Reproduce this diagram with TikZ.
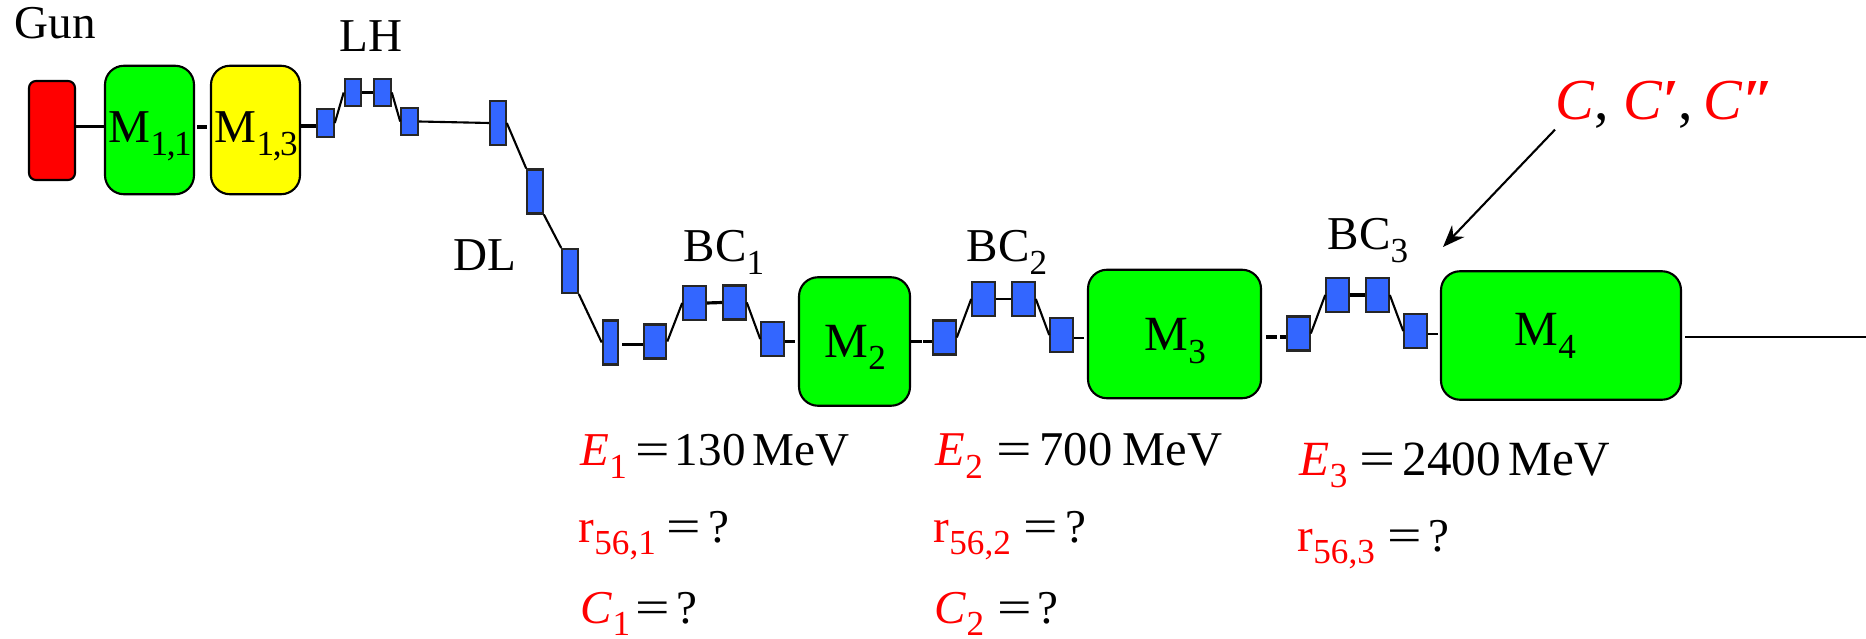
\documentclass[tikz,border=0pt]{standalone}
\usepackage{fontspec}
\usepackage{tikz}
\usepackage{xcolor}
\usetikzlibrary{arrows.meta}
\setmainfont{Liberation Serif}
\definecolor{magnetc}{HTML}{00FF00}
\definecolor{harmc}{HTML}{FFFF00}
\definecolor{gunc}{HTML}{FF0000}
\definecolor{dipolec}{HTML}{3366FF}
\newcommand{\lowsub}[1]{\raisebox{-3.6pt}{\fontsize{10}{10}\selectfont #1}}
\newcommand{\redit}[1]{\textcolor{gunc}{\textit{#1}}}
\newcommand{\eqs}{\scalebox{1.3}[1]{=}}
\tikzset{
  block/.style={draw=black, line width=0.6pt, inner sep=0pt},
  cavity/.style={block, fill=magnetc, rounded corners=0.19cm, minimum height=1.285cm},
  dipole/.style={draw=black!85, line width=0.6pt, inner sep=0pt, fill=dipolec, minimum width=0.225cm, minimum height=0.34cm},
  lhdipole/.style={dipole, minimum width=0.165cm, minimum height=0.275cm},
  dldipole/.style={dipole, minimum width=0.155cm, minimum height=0.44cm},
  beam/.style={draw=black, line width=0.6pt},
  heavybeam/.style={draw=black, line width=0.9pt},
  lbl/.style={inner sep=0pt, anchor=base west, font=\fontsize{13.4}{15}\selectfont},
  biglbl/.style={lbl, font=\fontsize{14}{15}\selectfont},
}
\begin{document}
\begin{tikzpicture}
\useasboundingbox (0,0) rectangle (18.66,6.38);
% injector
\node[block, fill=gunc, rounded corners=0.07cm, minimum width=0.46cm, minimum height=0.99cm] (gun) at (0.520,5.075) {};
\node[cavity, minimum width=0.89cm] (mA) at (1.495,5.080) {};
\node[cavity, fill=harmc, minimum width=0.89cm] (mB) at (2.555,5.080) {};
\node[lhdipole] (lha) at (3.255,5.150) {};
\node[lhdipole] (lhb) at (3.530,5.455) {};
\node[lhdipole] (lhc) at (3.825,5.455) {};
\node[lhdipole] (lhd) at (4.095,5.165) {};
\node[dldipole] (dla) at (4.980,5.150) {};
\node[dldipole] (dlb) at (5.350,4.465) {};
\node[dldipole] (dlc) at (5.700,3.670) {};
\node[dldipole] (dld) at (6.105,2.955) {};
% first compressor
\node[dipole] (bcAa) at (6.550,2.965) {};
\node[dipole] (bcAb) at (6.945,3.350) {};
\node[dipole] (bcAc) at (7.345,3.355) {};
\node[dipole] (bcAd) at (7.725,2.990) {};
\node[cavity, minimum width=1.11cm] (mC) at (8.545,2.965) {};
% second compressor
\node[dipole] (bcBa) at (9.445,3.005) {};
\node[dipole] (bcBb) at (9.835,3.390) {};
\node[dipole] (bcBc) at (10.235,3.390) {};
\node[dipole] (bcBd) at (10.615,3.030) {};
\node[cavity, minimum width=1.73cm] (mD) at (11.745,3.040) {};
% third compressor
\node[dipole] (bcCa) at (12.985,3.045) {};
\node[dipole] (bcCb) at (13.375,3.430) {};
\node[dipole] (bcCc) at (13.775,3.430) {};
\node[dipole] (bcCd) at (14.155,3.070) {};
\node[cavity, minimum width=2.40cm] (mE) at (15.610,3.025) {};
% beam line
\draw[beam] ([yshift=0.04cm]gun.east) -- ([yshift=0.04cm]gun.east -| mA.west);
\draw[heavybeam, shorten <=0.02cm, shorten >=0.03cm] ([yshift=0.03cm]mA.east) -- ([yshift=0.03cm]mB.west);
\draw[heavybeam] ([yshift=-0.03cm]lha.west -| mB.east) -- ([yshift=-0.03cm]lha.west);
\draw[beam] (lha.east) -- (lhb.west);
\draw[heavybeam] (lhb.east) -- (lhc.west);
\draw[beam] (lhc.east) -- (lhd.west);
\draw[beam] (lhd.east) -- (dla.west);
\draw[beam] (dla.east) -- (dlb.north west);
\draw[beam] (dlb.south east) -- (dlc.north west);
\draw[beam] (dlc.south east) -- (dld.west);
\draw[heavybeam, shorten <=0.03cm] ([yshift=-0.03cm]bcAa.west -| dld.east) -- ([yshift=-0.03cm]bcAa.west);
\draw[beam] (bcAa.east) -- (bcAb.west);
\draw[heavybeam] (bcAb.east) -- (bcAc.west);
\draw[beam] (bcAc.east) -- (bcAd.west);
\draw[beam, shorten >=0.03cm] (bcAd.east |- mC.west) -- (mC.west);
\draw[heavybeam, dash pattern=on 3.1pt off 0.4pt] (mC.east) -- (bcBa.west |- mC.east);
\draw[beam] (bcBa.east) -- (bcBb.west);
\draw[beam] (bcBb.east) -- (bcBc.west);
\draw[beam] (bcBc.east) -- (bcBd.west);
\draw[beam, shorten >=0.03cm] ([yshift=-0.03cm]bcBd.east) -- ([yshift=-0.03cm]bcBd.east -| mD.west);
\draw[heavybeam, shorten <=0.04cm, dash pattern=on 3.1pt off 0.9pt] ([yshift=-0.035cm]mD.east |- bcCa.west) -- ([yshift=-0.035cm]bcCa.west);
\draw[beam] (bcCa.east) -- (bcCb.west);
\draw[heavybeam] (bcCb.east) -- (bcCc.west);
\draw[beam] (bcCc.east) -- (bcCd.west);
\draw[beam, shorten >=0.02cm] ([yshift=-0.03cm]bcCd.east) -- ([yshift=-0.03cm]bcCd.east -| mE.west);
\coordinate (beamend) at (18.66,3.010);
\draw[beam, shorten <=0.03cm] (mE.east |- beamend) -- (beamend);
% labels
\node[lbl] (gunlab) at (0.140,5.990) {Gun};
\node[lbl] (lhlab) at (3.390,5.860) {LH};
\node[lbl] (dllab) at (4.530,3.670) {DL};
\node[lbl] (mAlab) at (1.080,4.950) {M\lowsub{1\kern-0.4pt,\kern-0.4pt1}};
\node[lbl] (mBlab) at (2.140,4.950) {M\lowsub{1\kern-0.4pt,\kern-0.4pt3}};
\node[biglbl] (mClab) at (8.240,2.810) {M\lowsub{2}};
\node[biglbl] (mDlab) at (11.440,2.870) {M\lowsub{3}};
\node[biglbl] (mElab) at (15.140,2.920) {M\lowsub{4}};
\node[lbl] (bcAlab) at (6.830,3.760) {BC\lowsub{1}};
\node[lbl] (bcBlab) at (9.660,3.760) {BC\lowsub{2}};
\node[lbl] (bcClab) at (13.270,3.880) {BC\lowsub{3}};
% chirp label and arrow
\node[lbl, font=\fontsize{16.5}{18}\selectfont] (chirplab) at (15.550,5.180) {\redit{C}, \redit{C\textbf{′}},\kern3pt\redit{C\textbf{″}}};
\coordinate (chirptip) at (14.430,3.910);
\draw[beam, -{Stealth[length=0.22cm,width=0.17cm]}] (chirplab.south west) -- (chirptip);
% settings
\node[lbl] (eA) at (5.800,1.720) {\redit{E}\textcolor{gunc}{\lowsub{1}}\kern2.3pt\eqs\kern1.5pt 130\kern2pt MeV};
\node[lbl] (rA) at (5.780,0.960) {\textcolor{gunc}{r\lowsub{56,1}}\kern3.1pt\eqs\kern2pt ?};
\node[lbl] (cA) at (5.800,0.150) {\redit{C}\textcolor{gunc}{\lowsub{1}}\kern1.5pt\eqs\kern2pt ?};
\node[lbl, font=\fontsize{13.8}{15}\selectfont] (eB) at (9.350,1.720) {\redit{E}\textcolor{gunc}{\lowsub{2}}\kern4pt\eqs\kern2pt 700\kern3pt MeV};
\node[lbl] (rB) at (9.330,0.960) {\textcolor{gunc}{r\lowsub{56,2}}\kern3.7pt\eqs\kern2.1pt ?};
\node[lbl] (cB) at (9.340,0.150) {\redit{C}\textcolor{gunc}{\lowsub{2}}\kern3.7pt\eqs\kern1.7pt ?};
\node[biglbl] (eC) at (12.990,1.630) {\redit{E}\textcolor{gunc}{\lowsub{3}}\kern3.4pt\eqs\kern2pt 2400\kern2.2pt MeV};
\node[lbl] (rC) at (12.970,0.870) {\textcolor{gunc}{r\lowsub{56,3}}\kern3.7pt\eqs\kern1.8pt ?};
\end{tikzpicture}
\end{document}
